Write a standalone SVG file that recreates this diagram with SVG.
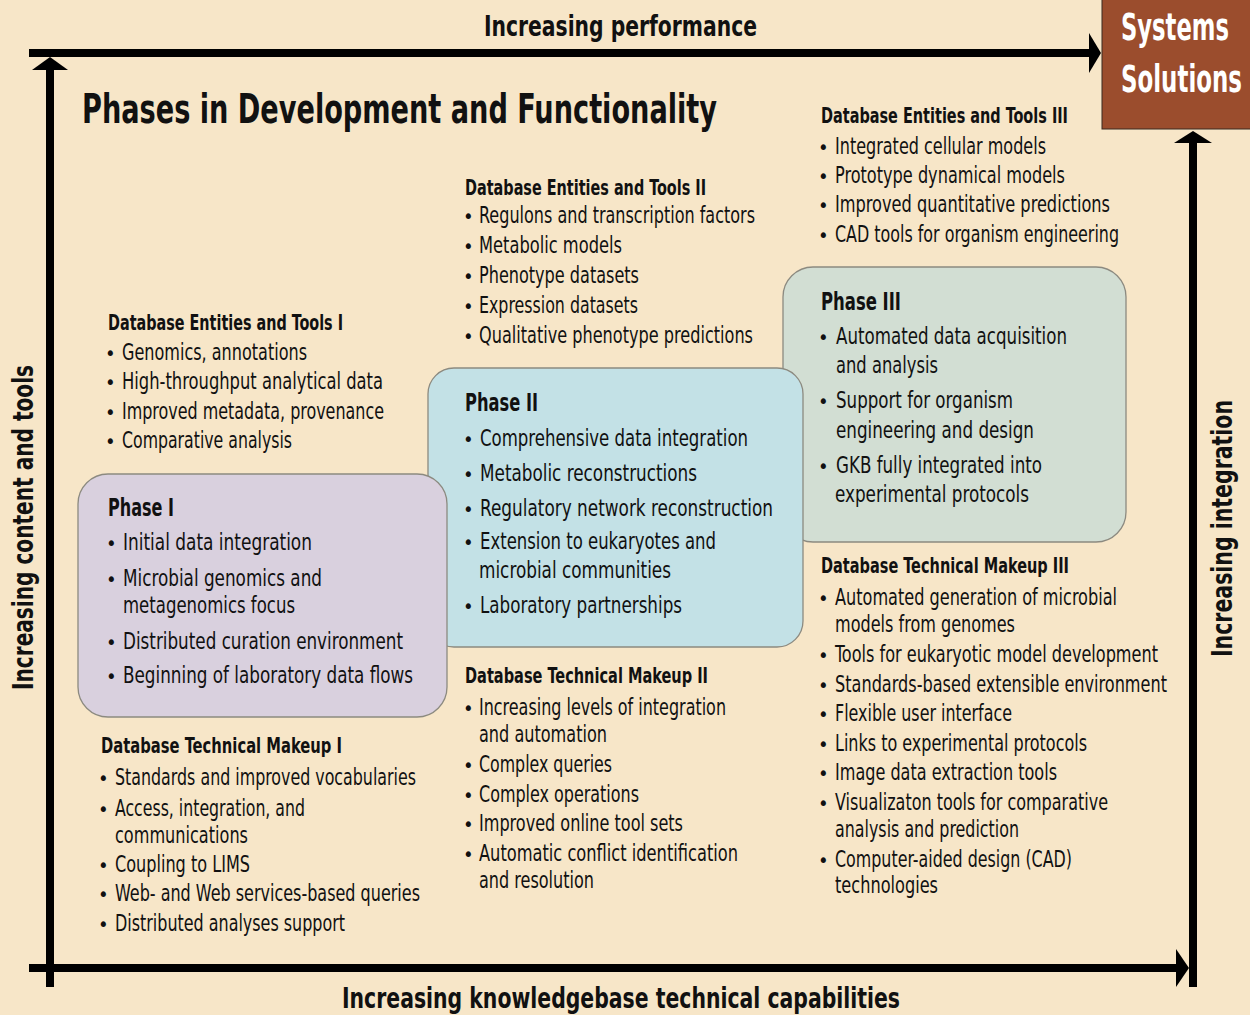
<svg xmlns="http://www.w3.org/2000/svg" width="1250" height="1015" viewBox="0 0 1250 1015">
<style>
text{font-family:"Liberation Sans Narrow","DejaVu Sans Condensed","Liberation Sans",sans-serif;fill:#111;}
.t{font-size:23px;}
.p{font-size:23.5px;}
.h{font-size:22px;font-weight:bold;}
.ph{font-size:25px;font-weight:bold;}
.bu{font-size:20px;}
.ax{font-size:29px;font-weight:bold;}
.title{font-size:40px;font-weight:bold;}
.ss{font-size:37px;font-weight:bold;fill:#fff;}
.box{stroke:#8c8a80;stroke-width:1.3;}
</style>
<rect x="0" y="0" width="1250" height="1015" fill="#f7e6c8"/>

<g id="connectors" fill="#000">
  <rect x="29" y="49" width="1062" height="8"/>
  <polygon points="1089,33 1101,53 1089,73"/>
  <rect x="29" y="964" width="1148" height="8"/>
  <polygon points="1176,949 1189,968 1176,987"/>
  <rect x="46" y="69" width="8" height="918"/>
  <polygon points="32,70 50,57 68,70"/>
  <rect x="1189" y="142" width="8" height="845"/>
  <polygon points="1174,143 1193,131 1212,143"/>
</g>

<g id="axis-labels">
  <text class="ax" x="484" y="36" textLength="273" lengthAdjust="spacingAndGlyphs">Increasing performance</text>
  <text class="ax" x="342" y="1008" textLength="558" lengthAdjust="spacingAndGlyphs">Increasing knowledgebase technical capabilities</text>
  <text class="ax" transform="translate(33,690) rotate(-90)" x="0" y="0" textLength="325" lengthAdjust="spacingAndGlyphs">Increasing content and tools</text>
  <text class="ax" transform="translate(1232,657) rotate(-90)" x="0" y="0" textLength="257" lengthAdjust="spacingAndGlyphs">Increasing integration</text>
</g>

<g id="systems-solutions">
  <rect x="1102" y="-1" width="150" height="130" fill="#9b4d2d" stroke="#3a2a20" stroke-width="1"/>
  <text class="ss" x="1121" y="40" textLength="108" lengthAdjust="spacingAndGlyphs">Systems</text>
  <text class="ss" x="1121" y="92" textLength="121" lengthAdjust="spacingAndGlyphs">Solutions</text>
</g>

<g id="title">
  <text class="title" x="82" y="123" textLength="635" lengthAdjust="spacingAndGlyphs">Phases in Development and Functionality</text>
</g>

<g id="phase3">
  <rect class="box" x="783" y="267" width="343" height="275" rx="30" fill="#d2ded3"/>
  <text class="ph" x="821" y="310" textLength="80" lengthAdjust="spacingAndGlyphs">Phase III</text>
  <text class="bu" x="818" y="344">•</text>
  <text class="p" x="836" y="344" textLength="231" lengthAdjust="spacingAndGlyphs">Automated data acquisition</text>
  <text class="p" x="836" y="373" textLength="102" lengthAdjust="spacingAndGlyphs">and analysis</text>
  <text class="bu" x="818" y="408">•</text>
  <text class="p" x="836" y="408" textLength="177" lengthAdjust="spacingAndGlyphs">Support for organism</text>
  <text class="p" x="836" y="438" textLength="198" lengthAdjust="spacingAndGlyphs">engineering and design</text>
  <text class="bu" x="818" y="473">•</text>
  <text class="p" x="836" y="473" textLength="206" lengthAdjust="spacingAndGlyphs">GKB fully integrated into</text>
  <text class="p" x="835" y="502" textLength="194" lengthAdjust="spacingAndGlyphs">experimental protocols</text>
</g>

<g id="phase2">
  <rect class="box" x="428" y="368" width="375" height="279" rx="26" fill="#c3e1e6"/>
  <text class="ph" x="465" y="411" textLength="73" lengthAdjust="spacingAndGlyphs">Phase II</text>
  <text class="bu" x="463" y="446">•</text>
  <text class="p" x="480" y="446" textLength="268" lengthAdjust="spacingAndGlyphs">Comprehensive data integration</text>
  <text class="bu" x="463" y="481">•</text>
  <text class="p" x="480" y="481" textLength="217" lengthAdjust="spacingAndGlyphs">Metabolic reconstructions</text>
  <text class="bu" x="463" y="516">•</text>
  <text class="p" x="480" y="516" textLength="293" lengthAdjust="spacingAndGlyphs">Regulatory network reconstruction</text>
  <text class="bu" x="463" y="549">•</text>
  <text class="p" x="480" y="549" textLength="236" lengthAdjust="spacingAndGlyphs">Extension to eukaryotes and</text>
  <text class="p" x="479" y="578" textLength="192" lengthAdjust="spacingAndGlyphs">microbial communities</text>
  <text class="bu" x="463" y="613">•</text>
  <text class="p" x="480" y="613" textLength="202" lengthAdjust="spacingAndGlyphs">Laboratory partnerships</text>
</g>

<g id="phase1">
  <rect class="box" x="78" y="474" width="369" height="243" rx="30" fill="#d9d0de"/>
  <text class="ph" x="108" y="516" textLength="66" lengthAdjust="spacingAndGlyphs">Phase I</text>
  <text class="bu" x="106" y="550">•</text>
  <text class="p" x="123" y="550" textLength="189" lengthAdjust="spacingAndGlyphs">Initial data integration</text>
  <text class="bu" x="106" y="586">•</text>
  <text class="p" x="123" y="586" textLength="199" lengthAdjust="spacingAndGlyphs">Microbial genomics and</text>
  <text class="p" x="123" y="613" textLength="172" lengthAdjust="spacingAndGlyphs">metagenomics focus</text>
  <text class="bu" x="106" y="649">•</text>
  <text class="p" x="123" y="649" textLength="280" lengthAdjust="spacingAndGlyphs">Distributed curation environment</text>
  <text class="bu" x="106" y="683">•</text>
  <text class="p" x="123" y="683" textLength="290" lengthAdjust="spacingAndGlyphs">Beginning of laboratory data flows</text>
</g>

<g id="entities1">
  <text class="h" x="108" y="330" textLength="235" lengthAdjust="spacingAndGlyphs">Database Entities and Tools I</text>
  <text class="bu" x="105" y="360">•</text>
  <text class="t" x="122" y="360" textLength="185" lengthAdjust="spacingAndGlyphs">Genomics, annotations</text>
  <text class="bu" x="105" y="389">•</text>
  <text class="t" x="122" y="389" textLength="261" lengthAdjust="spacingAndGlyphs">High-throughput analytical data</text>
  <text class="bu" x="105" y="419">•</text>
  <text class="t" x="122" y="419" textLength="262" lengthAdjust="spacingAndGlyphs">Improved metadata, provenance</text>
  <text class="bu" x="105" y="448">•</text>
  <text class="t" x="122" y="448" textLength="170" lengthAdjust="spacingAndGlyphs">Comparative analysis</text>
</g>

<g id="entities2">
  <text class="h" x="465" y="195" textLength="241" lengthAdjust="spacingAndGlyphs">Database Entities and Tools II</text>
  <text class="bu" x="463" y="223">•</text>
  <text class="t" x="479" y="223" textLength="276" lengthAdjust="spacingAndGlyphs">Regulons and transcription factors</text>
  <text class="bu" x="463" y="253">•</text>
  <text class="t" x="479" y="253" textLength="143" lengthAdjust="spacingAndGlyphs">Metabolic models</text>
  <text class="bu" x="463" y="283">•</text>
  <text class="t" x="479" y="283" textLength="160" lengthAdjust="spacingAndGlyphs">Phenotype datasets</text>
  <text class="bu" x="463" y="313">•</text>
  <text class="t" x="479" y="313" textLength="159" lengthAdjust="spacingAndGlyphs">Expression datasets</text>
  <text class="bu" x="463" y="343">•</text>
  <text class="t" x="479" y="343" textLength="274" lengthAdjust="spacingAndGlyphs">Qualitative phenotype predictions</text>
</g>

<g id="entities3">
  <text class="h" x="821" y="123" textLength="247" lengthAdjust="spacingAndGlyphs">Database Entities and Tools III</text>
  <text class="bu" x="818" y="154">•</text>
  <text class="t" x="835" y="154" textLength="211" lengthAdjust="spacingAndGlyphs">Integrated cellular models</text>
  <text class="bu" x="818" y="183">•</text>
  <text class="t" x="835" y="183" textLength="230" lengthAdjust="spacingAndGlyphs">Prototype dynamical models</text>
  <text class="bu" x="818" y="212">•</text>
  <text class="t" x="835" y="212" textLength="275" lengthAdjust="spacingAndGlyphs">Improved quantitative predictions</text>
  <text class="bu" x="818" y="242">•</text>
  <text class="t" x="835" y="242" textLength="284" lengthAdjust="spacingAndGlyphs">CAD tools for organism engineering</text>
</g>

<g id="makeup1">
  <text class="h" x="101" y="753" textLength="241" lengthAdjust="spacingAndGlyphs">Database Technical Makeup  I</text>
  <text class="bu" x="98" y="785">•</text>
  <text class="t" x="115" y="785" textLength="301" lengthAdjust="spacingAndGlyphs">Standards and improved vocabularies</text>
  <text class="bu" x="98" y="816">•</text>
  <text class="t" x="115" y="816" textLength="190" lengthAdjust="spacingAndGlyphs">Access, integration, and</text>
  <text class="t" x="115" y="843" textLength="133" lengthAdjust="spacingAndGlyphs">communications</text>
  <text class="bu" x="98" y="872">•</text>
  <text class="t" x="115" y="872" textLength="135" lengthAdjust="spacingAndGlyphs">Coupling to LIMS</text>
  <text class="bu" x="98" y="901">•</text>
  <text class="t" x="115" y="901" textLength="305" lengthAdjust="spacingAndGlyphs">Web- and Web services-based queries</text>
  <text class="bu" x="98" y="931">•</text>
  <text class="t" x="115" y="931" textLength="230" lengthAdjust="spacingAndGlyphs">Distributed analyses support</text>
</g>

<g id="makeup2">
  <text class="h" x="465" y="683" textLength="243" lengthAdjust="spacingAndGlyphs">Database Technical Makeup II</text>
  <text class="bu" x="463" y="715">•</text>
  <text class="t" x="479" y="715" textLength="247" lengthAdjust="spacingAndGlyphs">Increasing levels of integration</text>
  <text class="t" x="479" y="742" textLength="128" lengthAdjust="spacingAndGlyphs">and automation</text>
  <text class="bu" x="463" y="772">•</text>
  <text class="t" x="479" y="772" textLength="133" lengthAdjust="spacingAndGlyphs">Complex queries</text>
  <text class="bu" x="463" y="802">•</text>
  <text class="t" x="479" y="802" textLength="160" lengthAdjust="spacingAndGlyphs">Complex operations</text>
  <text class="bu" x="463" y="831">•</text>
  <text class="t" x="479" y="831" textLength="204" lengthAdjust="spacingAndGlyphs">Improved online tool sets</text>
  <text class="bu" x="463" y="861">•</text>
  <text class="t" x="479" y="861" textLength="259" lengthAdjust="spacingAndGlyphs">Automatic conflict identification</text>
  <text class="t" x="479" y="888" textLength="115" lengthAdjust="spacingAndGlyphs">and resolution</text>
</g>

<g id="makeup3">
  <text class="h" x="821" y="573" textLength="248" lengthAdjust="spacingAndGlyphs">Database Technical Makeup III</text>
  <text class="bu" x="818" y="605">•</text>
  <text class="t" x="835" y="605" textLength="282" lengthAdjust="spacingAndGlyphs">Automated generation of microbial</text>
  <text class="t" x="835" y="632" textLength="180" lengthAdjust="spacingAndGlyphs">models from genomes</text>
  <text class="bu" x="818" y="662">•</text>
  <text class="t" x="835" y="662" textLength="323" lengthAdjust="spacingAndGlyphs">Tools for eukaryotic model development</text>
  <text class="bu" x="818" y="692">•</text>
  <text class="t" x="835" y="692" font-size="22" textLength="332" lengthAdjust="spacingAndGlyphs">Standards-based extensible environment</text>
  <text class="bu" x="818" y="721">•</text>
  <text class="t" x="835" y="721" textLength="177" lengthAdjust="spacingAndGlyphs">Flexible user interface</text>
  <text class="bu" x="818" y="751">•</text>
  <text class="t" x="835" y="751" textLength="252" lengthAdjust="spacingAndGlyphs">Links to experimental protocols</text>
  <text class="bu" x="818" y="780">•</text>
  <text class="t" x="835" y="780" textLength="222" lengthAdjust="spacingAndGlyphs">Image data extraction tools</text>
  <text class="bu" x="818" y="810">•</text>
  <text class="t" x="835" y="810" textLength="273" lengthAdjust="spacingAndGlyphs">Visualizaton tools for comparative</text>
  <text class="t" x="835" y="837" textLength="184" lengthAdjust="spacingAndGlyphs">analysis and prediction</text>
  <text class="bu" x="818" y="867">•</text>
  <text class="t" x="835" y="867" textLength="237" lengthAdjust="spacingAndGlyphs">Computer-aided design (CAD)</text>
  <text class="t" x="835" y="893" textLength="103" lengthAdjust="spacingAndGlyphs">technologies</text>
</g>
</svg>
